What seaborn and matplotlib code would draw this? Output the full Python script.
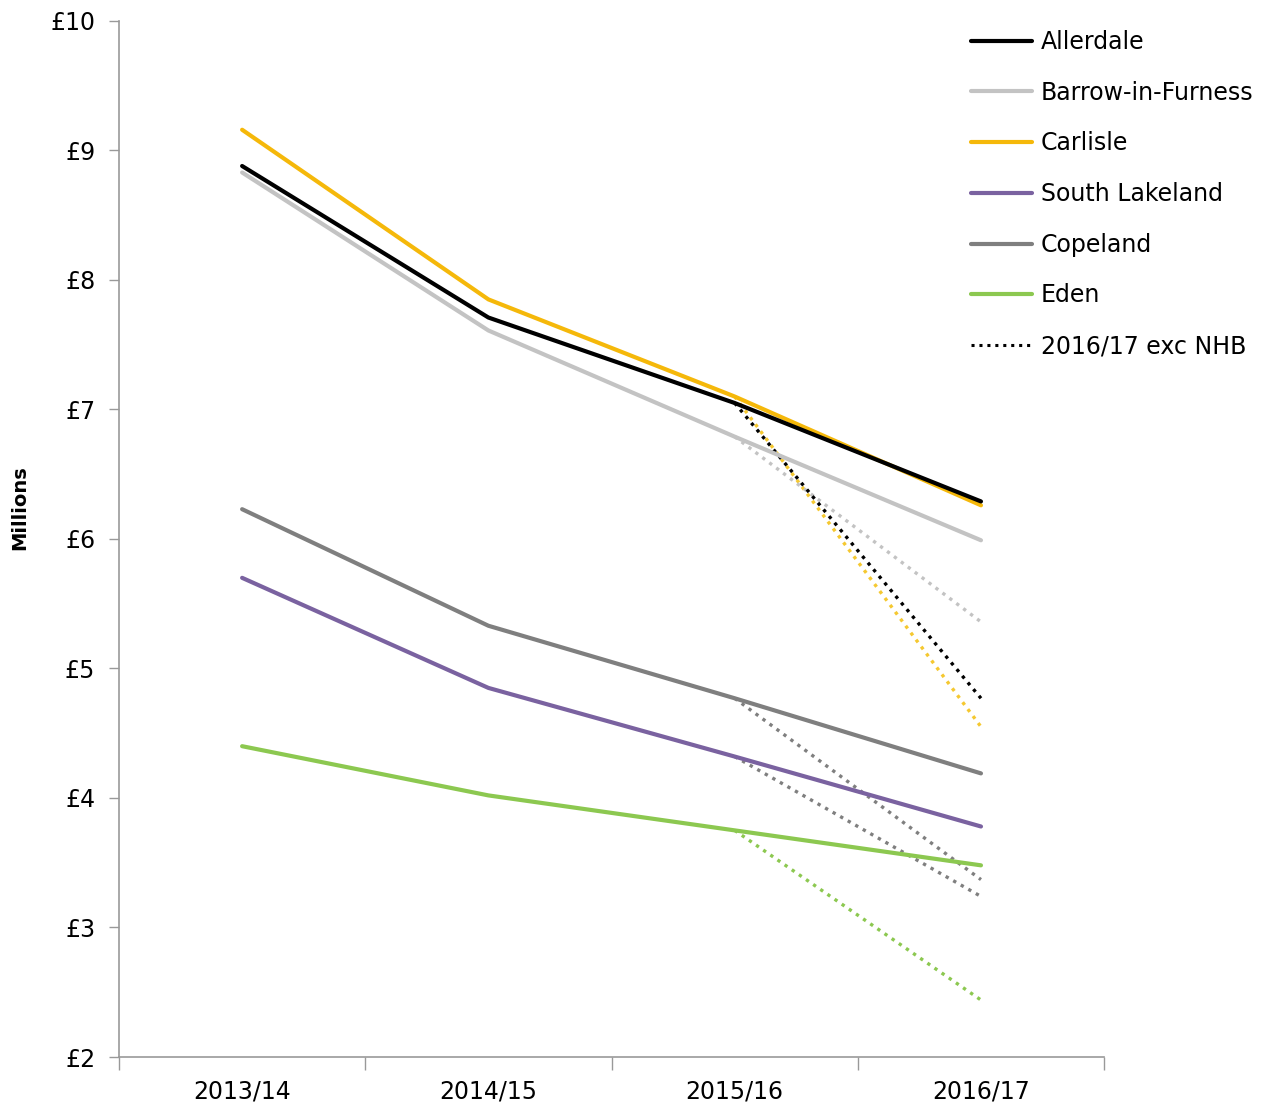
import numpy as np
import pandas as pd
import matplotlib
matplotlib.use("Agg")
import matplotlib.pyplot as plt
from matplotlib.lines import Line2D
from matplotlib.ticker import FixedLocator, FuncFormatter
import seaborn as sns

years = ["2013/14", "2014/15", "2015/16", "2016/17"]
councils = ["Allerdale", "Barrow-in-Furness", "Carlisle", "South Lakeland", "Copeland", "Eden"]

# £ millions
allerdale = [8.88, 7.71, 7.05, 6.29]
barrow = [8.83, 7.61, 6.79, 5.99]
carlisle = [9.16, 7.85, 7.10, 6.26]
south_lakeland = [5.70, 4.85, 4.32, 3.78]
copeland = [6.23, 5.33, 4.77, 4.19]
eden = [4.40, 4.02, 3.75, 3.48]

# 2016/17 excluding New Homes Bonus
exc_nhb = [4.77, 5.36, 4.55, 3.24, 3.37, 2.44]

colors = {
    "Allerdale": "#000000",
    "Barrow-in-Furness": "#c3c3c3",
    "Carlisle": "#f5b80a",
    "South Lakeland": "#7a62a0",
    "Copeland": "#7f7f7f",
    "Eden": "#8cc850",
}
dot_colors = {
    "Allerdale": "#000000",
    "Barrow-in-Furness": "#c3c3c3",
    "Carlisle": "#f5c830",
    "South Lakeland": "#7f7f7f",
    "Copeland": "#7f7f7f",
    "Eden": "#8cc850",
}

series = [allerdale, barrow, carlisle, south_lakeland, copeland, eden]
rows = []
for name, vals in zip(councils, series):
    for i, v in enumerate(vals):
        rows.append({"council": name, "x": i, "value": v})
df = pd.DataFrame(rows)

dot_rows = []
for name, vals, nhb in zip(councils, series, exc_nhb):
    dot_rows.append({"council": name, "x": 2, "value": vals[2]})
    dot_rows.append({"council": name, "x": 3, "value": nhb})
df_dot = pd.DataFrame(dot_rows)

sns.set_style("ticks")
plt.rcParams['font.family'] = ['DejaVu Sans']
plt.rcParams['text.color'] = 'black'
plt.rcParams['xtick.color'] = '#999999'
plt.rcParams['ytick.color'] = '#999999'
plt.rcParams['xtick.labelcolor'] = 'black'
plt.rcParams['ytick.labelcolor'] = 'black'

fig = plt.figure(figsize=(12.63, 11.03), dpi=100)
ax = fig.add_axes([0.0942, 0.0417, 0.7800, 0.9393])

# dotted first so solid lines sit on top
for name in councils[::-1]:
    sub = df_dot[df_dot.council == name]
    sns.lineplot(data=sub, x="x", y="value", ax=ax, color=dot_colors[name],
                 lw=2.4, linestyle=(0, (1, 1.6)), legend=False)
for name in councils[::-1]:
    sub = df[df.council == name]
    sns.lineplot(data=sub, x="x", y="value", ax=ax, color=colors[name],
                 lw=3.0, legend=False)

ax.set_xlim(-0.5, 3.5)
ax.set_ylim(2, 10)
ax.set_xticks(range(4))
ax.set_xticklabels(years, fontsize=17)
ax.xaxis.set_minor_locator(FixedLocator([-0.5, 0.5, 1.5, 2.5, 3.5]))
ax.tick_params(axis="x", which="major", length=0, pad=16)
ax.tick_params(axis="x", which="minor", length=9, width=1, direction="out")
ax.set_yticks(range(2, 11))
ax.yaxis.set_major_formatter(FuncFormatter(lambda v, p: f"£{int(v)}"))
ax.tick_params(axis="y", length=7, width=1, direction="out", labelsize=17, pad=10)
ax.set_xlabel("")
ax.set_ylabel("")
fig.text(20 / 1263, 1 - 508 / 1103, "Millions", rotation=90, fontsize=14,
         fontweight="bold", ha="center", va="center")

for s in ["top", "right"]:
    ax.spines[s].set_visible(False)
for s in ["left", "bottom"]:
    ax.spines[s].set_color("#999999")
    ax.spines[s].set_linewidth(1.2)

handles = [Line2D([], [], color=colors[n], lw=3.0) for n in councils]
handles.append(Line2D([], [], color="black", lw=2.2, linestyle=(0, (1, 1.6))))
labels = councils + ["2016/17 exc NHB"]
fig.legend(handles, labels, loc="upper left", bbox_to_anchor=(0.752, 0.992),
           frameon=False, fontsize=17, handlelength=2.6, handletextpad=0.35,
           labelspacing=1.13)

fig.savefig("out.png", dpi=100)
